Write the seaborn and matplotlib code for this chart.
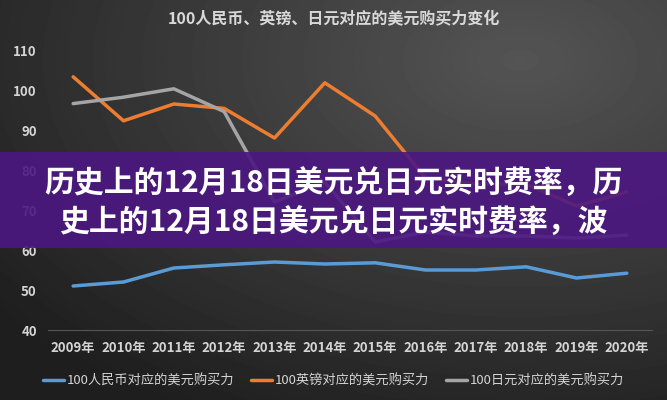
"""USD purchasing power of 100 CNY / GBP / JPY, dark slide style with a banner overlay."""

import numpy as np
import pandas as pd
import matplotlib.pyplot as plt
import seaborn as sns
from matplotlib.patches import Rectangle

# data
years = [2009, 2010, 2011, 2012, 2013, 2014, 2015, 2016, 2017, 2018, 2019, 2020]
cny = [51.0, 52.0, 55.5, 56.3, 57.0, 56.5, 56.8, 55.0, 55.0, 55.8, 53.0, 54.2]
gbp = [103.3, 92.3, 96.5, 95.4, 88.0, 101.8, 93.5, 78.0, 76.5, 76.5, 71.0, 74.5]
jpy = [96.6, 98.2, 100.3, 94.6, 72.0, 77.0, 62.0, 64.5, 63.5, 63.5, 63.0, 63.7]
series_names = ['100人民币对应的美元购买力', '100英镑对应的美元购买力', '100日元对应的美元购买力']
series_colors = ['#5b9bd5', '#ed7d31', '#a5a5a5']
y_ticks = [40, 50, 60, 70, 80, 90, 100, 110]
chart_title = '100人民币、英镑、日元对应的美元购买力变化'
banner_lines = ['历史上的12月18日美元兑日元实时费率，历', '史上的12月18日美元兑日元实时费率，波']

df = pd.concat([
    pd.DataFrame({'year': years, 'value': vals, 'series': name})
    for name, vals in zip(series_names, [cny, gbp, jpy])
])

sns.set_theme(style='dark')
plt.rcParams['font.family'] = ['Noto Sans CJK SC', 'DejaVu Sans']

fig = plt.figure(figsize=(6.67, 4), dpi=100)
fig.patch.set_facecolor('#262626')

# dark background with a soft light spot towards the upper right
bg = fig.add_axes([0, 0, 1, 1], zorder=-5)
yy, xx = np.mgrid[0:400, 0:667]
dist = np.sqrt(((xx - 520) / 667) ** 2 + ((yy - 60) / 400) ** 2)
shade = np.clip(0.33 - 0.21 * dist, 0.12, 0.33)
bg.imshow(shade, cmap='gray', vmin=0, vmax=1, aspect='auto', extent=[0, 1, 0, 1])
bg.axis('off')

ax = fig.add_axes([48 / 667, 70 / 400, 604 / 667, 280 / 400])
ax.set_facecolor('none')
sns.lineplot(data=df, x='year', y='value', hue='series', palette=series_colors,
             hue_order=series_names, linewidth=2.5, ax=ax, legend=True)

ax.set_xlim(years[0] - 0.5, years[-1] + 0.5)
ax.set_ylim(40, 110)
ax.set_yticks(y_ticks)
ax.set_yticklabels([str(t) for t in y_ticks])
ax.set_xticks(years)
ax.set_xticklabels([f'{y}年' for y in years])
ax.tick_params(colors='#d4d4d4', labelsize=9.5, length=0, pad=8)
for lab in ax.get_xticklabels() + ax.get_yticklabels():
    lab.set_fontweight('bold')
ax.set_xlabel('')
ax.set_ylabel('')
ax.grid(False)
for side in ['top', 'right', 'left']:
    ax.spines[side].set_visible(False)
ax.spines['bottom'].set_color('#555555')
ax.spines['bottom'].set_linewidth(0.8)

handles, labels = ax.get_legend_handles_labels()
ax.legend_.remove()
fig.legend(handles, labels, loc='center', bbox_to_anchor=(0.5, 1 - 381 / 400), ncol=3,
           frameon=False, fontsize=9.5, labelcolor='#d4d4d4', handlelength=1.6,
           handletextpad=0.2, columnspacing=1.3)

fig.text(0.5, 1 - 19 / 400, chart_title, ha='center', va='center',
         color='#d9d9d9', fontsize=11.5, fontweight='bold')

# purple banner on top of the chart
fig.patches.append(Rectangle((0, 1 - 248 / 400), 1, 96 / 400, transform=fig.transFigure,
                             facecolor='#4c1782', alpha=0.9, edgecolor='none', zorder=10))
for i, line in enumerate(banner_lines):
    fig.text(0.5, 1 - (184 + 39 * i) / 400, line, ha='center', va='center',
             color='white', fontsize=21.5, fontweight='bold', zorder=11)

plt.savefig('out.png', dpi=100)
plt.close()
